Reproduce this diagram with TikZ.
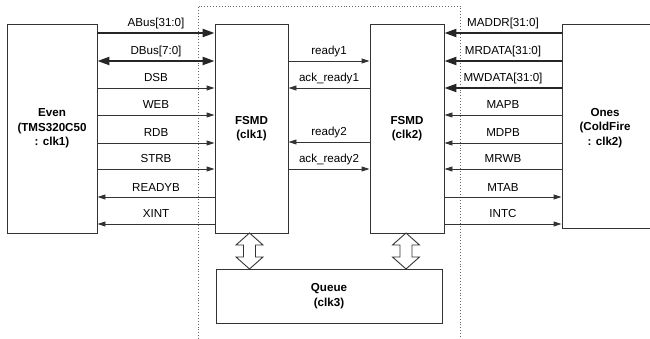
\documentclass[tikz,border=0pt]{standalone}
\usepackage{fontspec}
\setmainfont{Liberation Sans}
\usetikzlibrary{arrows.meta,calc}
\begin{document}
\begin{tikzpicture}[x=1pt,y=-1pt,
  box/.style={draw=black!80, line width=0.9pt, inner sep=0pt, align=center,
    font=\fontsize{11.6}{14.5}\selectfont\bfseries},
  boxtext/.style={inner sep=0pt, align=center, font=\fontsize{11.6}{14.5}\selectfont\bfseries},
  sig/.style={draw=black!80, line width=0.9pt, -{Triangle[length=8pt,width=5pt]}},
  bus/.style={draw=black!85, line width=2.2pt, -{Triangle[length=12pt,width=8pt]}},
  dbus/.style={draw=black!85, line width=2.2pt, {Triangle[length=12pt,width=8pt]}-{Triangle[length=12pt,width=8pt]}},
  lbl/.style={anchor=base, inner sep=0pt, font=\fontsize{11.6}{14}\selectfont, yshift=6pt},
  dots/.style={draw=black!60, line width=0.9pt, dotted},
  blk/.style={draw=black!80, line width=0.9pt, fill=white}]
\useasboundingbox (0,0) rectangle (650,339);
% dotted region
\draw[dots] (198,339) -- (198,6) -- (460,6) -- (460,339);
% boxes
\node[box, minimum width=90pt, minimum height=209pt] (even) at (52,128.5) {Even\\(TMS320C50\\: clk1)};
\node[box, minimum width=73pt, minimum height=209pt] (f1) at (251.5,128.5) {FSMD\\(clk1)};
\node[box, minimum width=74pt, minimum height=209pt] (f2) at (407,128.5) {FSMD\\(clk2)};
\node[box, minimum width=92pt, minimum height=204pt] (ones) at (608,126) {};
\node[boxtext] (onestext) at (605,128) {Ones\\(ColdFire\\: clk2)};
\node[box, minimum width=226pt, minimum height=54pt] (queue) at (329,296) {Queue\\(clk3)};
% left side signals
\draw[bus]  (even.east |- 0,33)  -- node[lbl]{ABus[31:0]} (f1.west |- 0,33);
\draw[dbus] (even.east |- 0,61)  -- node[lbl]{DBus[7:0]} (f1.west |- 0,61);
\draw[sig]  (even.east |- 0,88)  -- node[lbl]{DSB} (f1.west |- 0,88);
\draw[sig]  (even.east |- 0,115) -- node[lbl]{WEB} (f1.west |- 0,115);
\draw[sig]  (even.east |- 0,143) -- node[lbl]{RDB} (f1.west |- 0,143);
\draw[sig]  (even.east |- 0,169) -- node[lbl]{STRB} (f1.west |- 0,169);
\draw[sig]  (f1.west |- 0,197) -- node[lbl]{READYB} (even.east |- 0,197);
\draw[sig]  (f1.west |- 0,224) -- node[lbl]{XINT} (even.east |- 0,224);
% internal signals
\draw[sig] (f1.east |- 0,61)  -- node[lbl]{ready1} (f2.west |- 0,61);
\draw[sig] (f2.west |- 0,88)  -- node[lbl]{ack\_ready1} (f1.east |- 0,88);
\draw[sig] (f2.west |- 0,142) -- node[lbl]{ready2} (f1.east |- 0,142);
\draw[sig] (f1.east |- 0,169) -- node[lbl]{ack\_ready2} (f2.west |- 0,169);
% right side signals
\draw[bus] (ones.west |- 0,33)  -- node[lbl]{MADDR[31:0]} (f2.east |- 0,33);
\draw[bus] (ones.west |- 0,61)  -- node[lbl]{MRDATA[31:0]} (f2.east |- 0,61);
\draw[bus] (ones.west |- 0,88)  -- node[lbl]{MWDATA[31:0]} (f2.east |- 0,88);
\draw[sig] (ones.west |- 0,115) -- node[lbl]{MAPB} (f2.east |- 0,115);
\draw[sig] (ones.west |- 0,143) -- node[lbl]{MDPB} (f2.east |- 0,143);
\draw[sig] (ones.west |- 0,169) -- node[lbl]{MRWB} (f2.east |- 0,169);
\draw[sig] (f2.east |- 0,197) -- node[lbl]{MTAB} (ones.west |- 0,197);
\draw[sig] (f2.east |- 0,224) -- node[lbl]{INTC} (ones.west |- 0,224);
% block arrows between FSMDs and queue
\foreach \n/\cx in {f1/249.5, f2/406} {
  \draw[blk] (\cx,233) -- (\cx+13.5,245) -- (\cx+6,245) -- (\cx+6,257) -- (\cx+13.5,257)
    -- (\cx,269) -- (\cx-13.5,257) -- (\cx-6,257) -- (\cx-6,245) -- (\cx-13.5,245) -- cycle;
}
\end{tikzpicture}
\end{document}
